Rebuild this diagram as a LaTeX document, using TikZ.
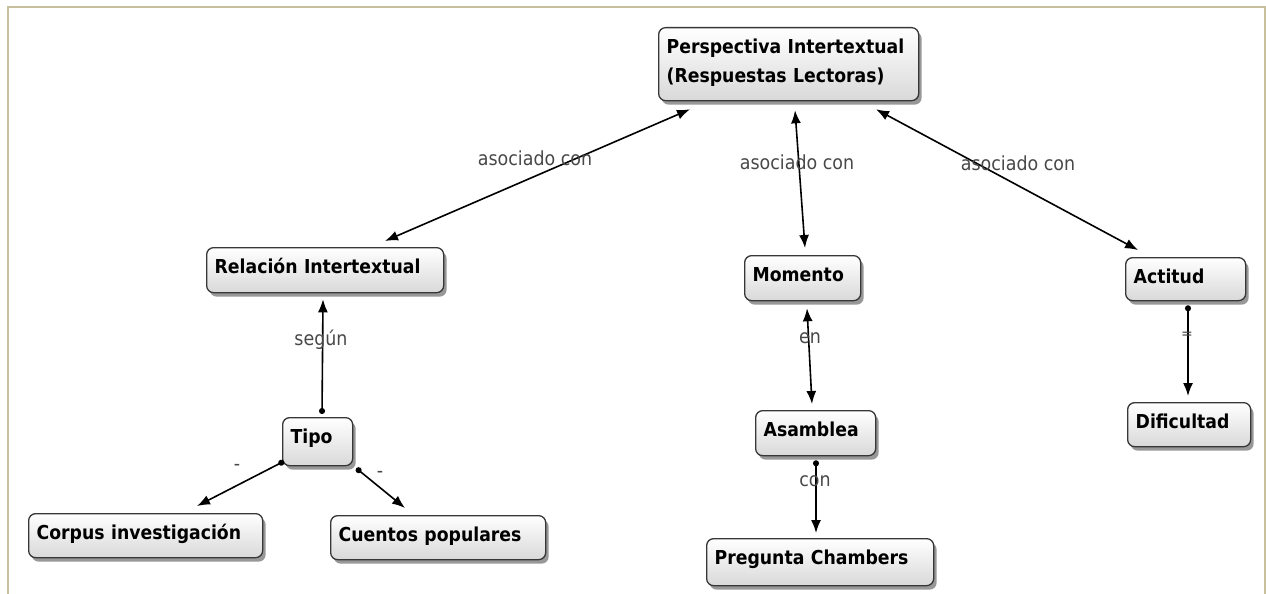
\documentclass[tikz,border=0pt]{standalone}
\usepackage{fontspec}
\setmainfont{DejaVu Sans}
\newfontfamily\boxfont[FakeStretch=0.9]{DejaVu Sans}
\usetikzlibrary{arrows.meta,shadows}

\definecolor{frametan}{RGB}{200,192,156}
\definecolor{labelgray}{RGB}{72,72,72}
\definecolor{boxline}{RGB}{55,55,55}

% concept box: name, left, top, right, bottom (pt, y downwards), text
\newcommand\conceptbox[6]{%
  \pgfmathsetmacro\cbw{#4-#2-16}%
  \pgfmathsetmacro\cbd{#5-#3-37}%
  \node[concept, anchor=north west, text width=\cbw pt, text depth=\cbd pt] (#1) at (#2,#3) {#6};}

\tikzset{
  concept/.style={draw=boxline, line width=1.3pt, rounded corners=7pt,
    top color=white, bottom color=black!15,
    drop shadow={shadow xshift=3pt, shadow yshift=-4pt, opacity=.5, fill=black!80},
    inner xsep=8pt, inner ysep=11pt, text height=15pt, align=left,
    font=\boxfont\fontsize{19.2}{29}\selectfont\bfseries},
  lbl/.style={text=labelgray, inner sep=0pt, font=\boxfont\fontsize{19.4}{22}\selectfont},
  conn/.style={draw=black, line width=1.6pt},
  tip/.tip={Latex[length=13pt,width=10pt]},
  dot/.tip={Circle[length=6pt]},
}

\begin{document}
\begin{tikzpicture}[x=1pt, y=-1pt]
  \useasboundingbox (0,0) rectangle (1266,594);
  \fill[white] (0,0) rectangle (1266,594);
  % open frame
  \draw[frametan, line width=2.5pt] (8,594) -- (8,7) -- (1265,7) -- (1265,594);

  % concepts
  \conceptbox{P}{658}{27}{918}{100}{Perspectiva Intertextual\\(Respuestas Lectoras)}
  \conceptbox{R}{206}{247}{443}{292}{Relación Intertextual}
  \conceptbox{M}{744}{255}{860}{300}{Momento}
  \conceptbox{A}{1125}{257}{1245}{300}{Actitud}
  \conceptbox{T}{282}{417}{352}{465}{Tipo}
  \conceptbox{As}{755}{410}{875}{455}{Asamblea}
  \conceptbox{D}{1127}{402}{1250}{446}{Dificultad}
  \conceptbox{C}{28}{513}{262}{557}{Corpus investigación}
  \conceptbox{Cu}{330}{515}{545}{559}{Cuentos populares}
  \conceptbox{Pr}{706}{538}{933}{585}{Pregunta Chambers}

  % connectors
  \draw[conn, tip-tip] ([shift={(32,8)}]P.south west) -- ([shift={(179,-6)}]R.north west);
  \draw[conn, tip-tip] ([shift={(137,9)}]P.south west) -- ([shift={(61,-7)}]M.north west);
  \draw[conn, tip-tip] ([shift={(218,8)}]P.south west) -- ([shift={(13,-7)}]A.north west);
  \draw[conn, dot-tip] ([shift={(40,-3)}]T.north west) -- ([shift={(117,6)}]R.south west);
  \draw[conn, tip-tip] ([shift={(63,7)}]M.south west) -- ([shift={(57,-6)}]As.north west);
  \draw[conn, dot-tip] ([shift={(61,4)}]As.south west) -- ([shift={(110,-5)}]Pr.north west);
  \draw[conn, dot-tip] ([shift={(63,4)}]A.south west) -- ([shift={(61,-6)}]D.north west);
  \draw[conn, dot-tip] ([shift={(2,-5)}]T.south west) -- ([shift={(169,-7)}]C.north west);
  \draw[conn, dot-tip] ([shift={(3,2)}]T.south east) -- ([shift={(75,-7)}]Cu.north west);

  % link labels
  \node[lbl] (l1) at (535,158) {asociado con};
  \node[lbl] (l2) at (797,162) {asociado con};
  \node[lbl] (l3) at (1018,163) {asociado con};
  \node[lbl] (l4) at (321,340) {según};
  \node[lbl] (l5) at (810,338) {en};
  \node[lbl] (l6) at (815,481) {con};
  \node[lbl, font=\fontsize{14}{15}\selectfont] (l7) at (1187,335) {=};
  \node[lbl] (l8) at (237,467) {-};
  \node[lbl] (l9) at (380,474) {-};
\end{tikzpicture}
\end{document}
